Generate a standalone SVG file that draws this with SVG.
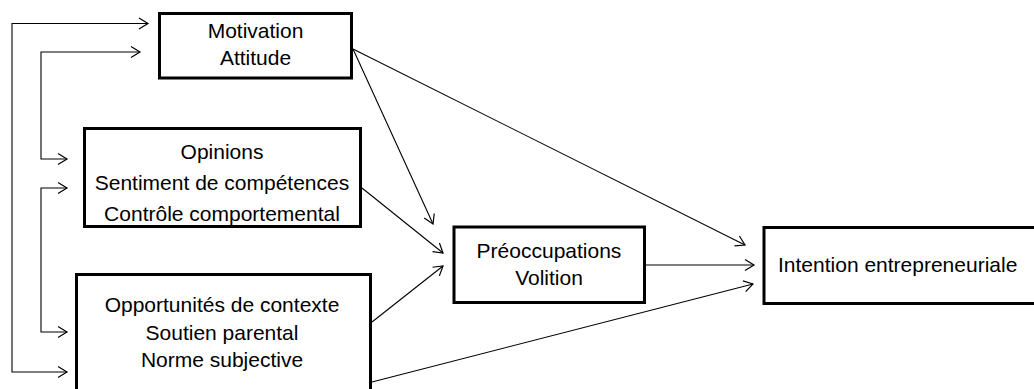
<svg xmlns="http://www.w3.org/2000/svg" width="1034" height="389" viewBox="0 0 1034 389">
<style>
.box{fill:#fff;stroke:#000;stroke-width:3}
.t{font-family:"Liberation Sans",Arial,sans-serif;font-size:21px;fill:#000;text-anchor:middle}
.c{fill:none;stroke:#000;stroke-width:1.1}
</style>
<defs>
<marker id="ah" markerUnits="userSpaceOnUse" markerWidth="14" markerHeight="14" viewBox="-11 -7 13 14" refX="0" refY="0" orient="auto-start-reverse">
<path d="M-9,-5.5 L0,0 L-9,5.5" fill="none" stroke="#000" stroke-width="1.2"/>
</marker>
</defs>
<rect width="1034" height="389" fill="#fff"/>
<g id="connectors">
<path class="c" d="M67,372 H12 V23.5 H148" marker-start="url(#ah)" marker-end="url(#ah)"/>
<path class="c" d="M67,159 H41 V52 H140" marker-start="url(#ah)" marker-end="url(#ah)"/>
<path class="c" d="M67,188 H41 V332 H67" marker-start="url(#ah)" marker-end="url(#ah)"/>
<path class="c" d="M353,49 L433,224" marker-end="url(#ah)"/>
<path class="c" d="M353,49 L745,245" marker-end="url(#ah)"/>
<path class="c" d="M362,188 L443,253" marker-end="url(#ah)"/>
<path class="c" d="M372,322 L443,266" marker-end="url(#ah)"/>
<path class="c" d="M372,382 L753,284" marker-end="url(#ah)"/>
<path class="c" d="M646,265 L754,265" marker-end="url(#ah)"/>
</g>
<g id="motivation">
<rect class="box" x="159.5" y="13.5" width="192" height="64.5"/>
<text class="t" x="255.5" y="38">Motivation</text>
<text class="t" x="255.5" y="65">Attitude</text>
</g>
<g id="opinions">
<rect class="box" x="84.5" y="128.5" width="276" height="98"/>
<text class="t" x="222" y="159">Opinions</text>
<text class="t" x="222" y="190">Sentiment de compétences</text>
<text class="t" x="222" y="221">Contrôle comportemental</text>
</g>
<g id="opportunites">
<rect class="box" x="76.5" y="274.5" width="294" height="130"/>
<text class="t" x="222" y="312">Opportunités de contexte</text>
<text class="t" x="222" y="340">Soutien parental</text>
<text class="t" x="222" y="367">Norme subjective</text>
</g>
<g id="preoccupations">
<rect class="box" x="454" y="227" width="190.5" height="75.5"/>
<text class="t" x="549" y="258">Préoccupations</text>
<text class="t" x="549" y="285">Volition</text>
</g>
<g id="intention">
<rect class="box" x="764" y="227.5" width="300" height="76"/>
<text class="t" x="778" y="272" style="text-anchor:start">Intention entrepreneuriale</text>
</g>
</svg>
